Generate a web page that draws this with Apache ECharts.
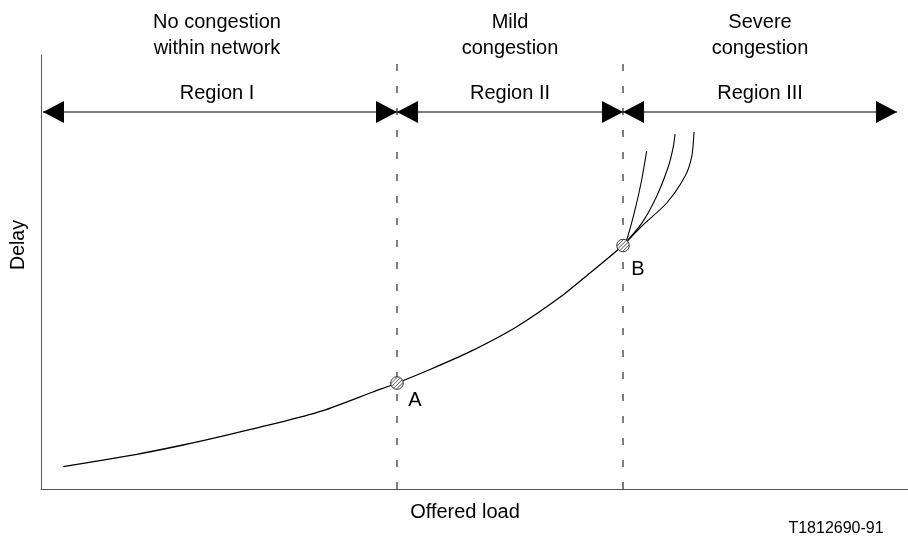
<!DOCTYPE html>
<html><head><meta charset="utf-8">
<script src="https://cdn.jsdelivr.net/npm/echarts@6/dist/echarts.min.js"></script>
<style>html,body{margin:0;padding:0;background:#fff}#c{width:908px;height:536px}</style>
</head><body><div id="c"></div><script>
// Offered load (x) and delay (y), arbitrary units 0..100
const loadMain  = [2.57, 11.04, 16.38, 21.8, 28.34, 32.53, 38.29, 41.06, 44.87, 49.48, 54.87, 60.21, 63.32, 67.13];
const delayMain = [5.14, 8.0, 10.14, 12.6, 15.74, 18.04, 22.35, 24.42, 27.53, 31.64, 37.4, 44.7, 49.77, 56.1];
const loadBranch1  = [67.13, 67.55, 68.51, 69.28, 69.86];
const delayBranch1 = [56.1, 57.37, 64.29, 71.2, 77.88];
const loadBranch2  = [67.13, 69.28, 71.0, 72.36, 72.94, 73.13];
const delayBranch2 = [56.1, 61.2, 67.4, 74.3, 78.96, 81.8];
const loadBranch3  = [67.13, 69.28, 72.17, 74.28, 75.06, 75.32];
const delayBranch3 = [56.1, 60.54, 65.9, 72.04, 76.66, 82.26];
const pointNames = ['A', 'B'];
const pointLoad  = [41.06, 67.13];
const pointDelay = [24.42, 56.1];
const regionBounds = [0.23, 41.06, 67.13, 98.73];
const arrowDelay = 86.87;
const dashTop = 98.85;
const regionNames = ['Region I', 'Region II', 'Region III'];
const regionTitles = ['No congestion\nwithin network', 'Mild\ncongestion', 'Severe\ncongestion'];

const zip = (xs, ys) => xs.map((x, i) => [x, ys[i]]);
const FONT = "'Liberation Sans', Arial, Helvetica, sans-serif";

const chart = echarts.init(document.getElementById('c'), null, {renderer: 'canvas'});

const series = [];
series.push({type: 'line', data: zip(loadMain, delayMain), smooth: 0.25, symbol: 'none', lineStyle: {color: '#000', width: 1.3}, silent: true, z: 3});
[[loadBranch1, delayBranch1], [loadBranch2, delayBranch2], [loadBranch3, delayBranch3]].forEach(([xs, ys]) => {
  series.push({type: 'line', data: zip(xs, ys), smooth: 0.25, symbol: 'none', lineStyle: {color: '#000', width: 1.1}, silent: true, z: 3});
});
// dashed boundaries
[regionBounds[1], regionBounds[2]].forEach(x => {
  series.push({type: 'line', data: [[x, 0], [x, dashTop]], symbol: 'none', lineStyle: {color: '#000', width: 1, type: [7, 15]}, silent: true, z: 2});
});
// arrow line
series.push({type: 'line', data: [[regionBounds[0], arrowDelay], [regionBounds[3], arrowDelay]], symbol: 'none', lineStyle: {color: '#000', width: 1.2}, silent: true, z: 2});
// arrow heads
series.push({type: 'scatter', data: regionBounds.slice(0, 3).map(x => [x, arrowDelay]), symbol: 'path://M22,0 L0,11 L22,22 Z', symbolSize: [21, 22], symbolOffset: [10.5, 0], itemStyle: {color: '#000', opacity: 1}, silent: true, z: 4});
series.push({type: 'scatter', data: regionBounds.slice(1).map(x => [x, arrowDelay]), symbol: 'path://M0,0 L22,11 L0,22 Z', symbolSize: [21, 22], symbolOffset: [-10.5, 0], itemStyle: {color: '#000', opacity: 1}, silent: true, z: 4});
// operating points (hatched circles)
const labelOffsets = [[18, 17], [15, 24]];
series.push({type: 'custom', silent: true, z: 5,
  data: pointNames.map((n, i) => [pointLoad[i], pointDelay[i]]),
  renderItem: function (params, api) {
    const p = api.coord([api.value(0), api.value(1)]);
    const r = 6.3;
    const children = [{type: 'circle', shape: {cx: p[0], cy: p[1], r: r}, style: {fill: '#fff', stroke: '#333', lineWidth: 1}}];
    const s = Math.SQRT1_2;
    [-3.9, -1.3, 1.3, 3.9].forEach(d => {
      const h = Math.sqrt(r * r - d * d) - 0.3;
      const cx = p[0] + d * s, cy = p[1] + d * s;
      children.push({type: 'line', shape: {x1: cx - h * s, y1: cy + h * s, x2: cx + h * s, y2: cy - h * s}, style: {stroke: '#444', lineWidth: 0.9}});
    });
    const off = labelOffsets[params.dataIndex];
    children.push({type: 'text', x: p[0] + off[0], y: p[1] + off[1], style: {text: pointNames[params.dataIndex], font: '20px ' + FONT, fill: '#000', textAlign: 'center', textVerticalAlign: 'middle'}});
    return {type: 'group', children: children};
  }
});

const centers = [ (41 + 397) / 2 - 2, (397 + 623) / 2, (623 + 897) / 2 ];
const graphics = [];
regionTitles.forEach((t, i) => {
  graphics.push({type: 'text', x: centers[i], y: 35, style: {text: t, font: '20px ' + FONT, fill: '#000', textAlign: 'center', textVerticalAlign: 'middle', lineHeight: 26}});
  graphics.push({type: 'text', x: centers[i], y: 93, style: {text: regionNames[i], font: '20px ' + FONT, fill: '#000', textAlign: 'center', textVerticalAlign: 'middle'}});
});
graphics.push({type: 'text', x: 19, y: 245, rotation: Math.PI / 2, style: {text: 'Delay', font: '19.5px ' + FONT, fill: '#000', textAlign: 'center', textVerticalAlign: 'middle'}});
graphics.push({type: 'text', x: 465, y: 512, style: {text: 'Offered load', font: '20px ' + FONT, fill: '#000', textAlign: 'center', textVerticalAlign: 'middle'}});
graphics.push({type: 'text', x: 836, y: 529, style: {text: 'T1812690-91', font: '16px ' + FONT, fill: '#000', textAlign: 'center', textVerticalAlign: 'middle'}});

const axisCommon = {type: 'value', min: 0, max: 100, axisLine: {show: true, onZero: false, lineStyle: {color: '#555', width: 1}}, axisTick: {show: false}, axisLabel: {show: false}, splitLine: {show: false}};
chart.setOption({
  animation: false,
  backgroundColor: '#fff',
  grid: {left: 41, right: 0, top: 55, bottom: 47, containLabel: false},
  xAxis: Object.assign({}, axisCommon),
  yAxis: Object.assign({}, axisCommon),
  series: series,
  graphic: graphics
});
</script></body></html>
